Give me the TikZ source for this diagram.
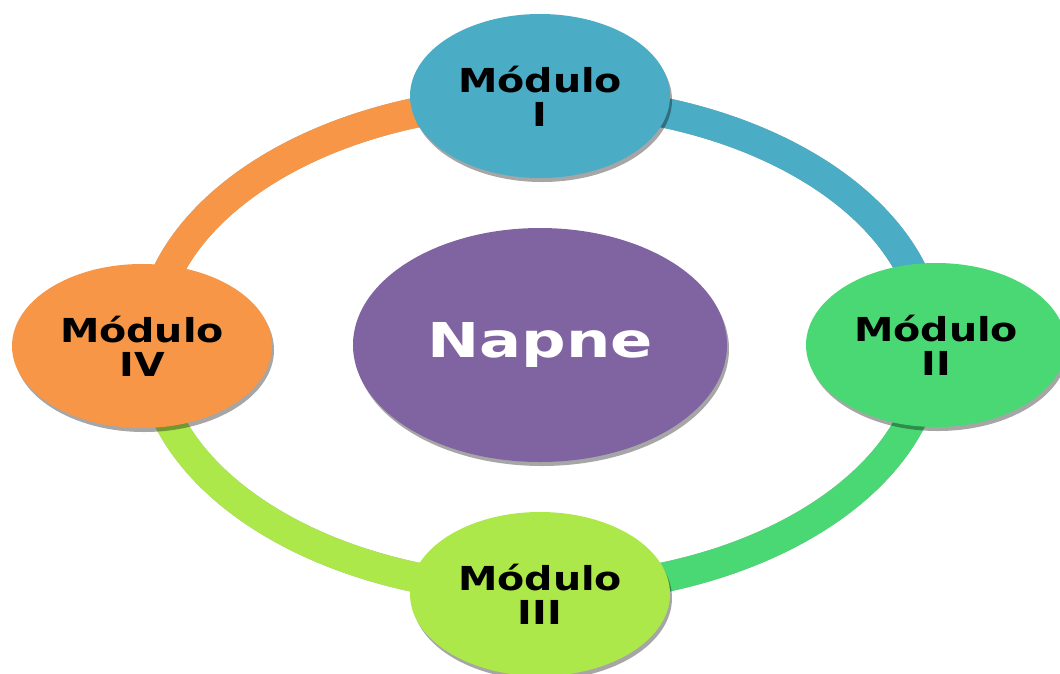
\documentclass[tikz,border=0pt]{standalone}
\usepackage{fontspec}
\usetikzlibrary{shapes.geometric}
\newfontfamily\modfont{DejaVu Sans}[FakeStretch=1.2]
\newfontfamily\napfont{DejaVu Sans}[FakeStretch=1.3]
\definecolor{cblue}{HTML}{4BACC6}
\definecolor{cgreen}{HTML}{4AD874}
\definecolor{clime}{HTML}{ADE84A}
\definecolor{corange}{HTML}{F79646}
\definecolor{cpurple}{HTML}{8064A2}
\definecolor{cshadow}{HTML}{A6A6A6}
\tikzset{
  modbox/.style={ellipse, minimum width=260, minimum height=164, inner sep=0pt,
    align=center, text=black, font=\modfont\bfseries\fontsize{33}{34}\selectfont},
  modshadow/.style={ellipse, minimum width=260, minimum height=164, inner sep=0pt,
    fill=black, fill opacity=0.35},
  band/.style={line width=30pt, line cap=butt},
}
\begin{document}
\begin{tikzpicture}[x=1pt,y=1pt]
\useasboundingbox (0,0) rectangle (1060,-673);
% ring coordinates
\coordinate (rT) at (540,-100);
\coordinate (rL) at (150,-345);
\coordinate (rB) at (540,-590);
\coordinate (rR) at (930,-345);
% band shadows
\begin{scope}[shift={(1,-4)}]
  \draw[band, cshadow] (rT) arc[start angle=90, end angle=180, x radius=390, y radius=245];
  \draw[band, cshadow] (rR) arc[start angle=0, end angle=90, x radius=390, y radius=245];
  \draw[band, cshadow] (rB) arc[start angle=270, end angle=360, x radius=390, y radius=245];
  \draw[band, cshadow] (rL) arc[start angle=180, end angle=270, x radius=390, y radius=245];
\end{scope}
% bands
\draw[band, corange] (rT) arc[start angle=90, end angle=180, x radius=390, y radius=245];
\draw[band, cblue] (rR) arc[start angle=0, end angle=90, x radius=390, y radius=245];
\draw[band, cgreen] (rB) arc[start angle=270, end angle=360, x radius=390, y radius=245];
\draw[band, clime] (rL) arc[start angle=180, end angle=270, x radius=390, y radius=245];
% module shadows
\node[modshadow] (s1) at (542,-100) {};
\node[modshadow] (s2) at (938,-349) {};
\node[modshadow] (s3) at (542,-598) {};
\node[modshadow] (s4) at (144,-350) {};
\node[ellipse, minimum width=374, minimum height=234, inner sep=0pt, fill=black, fill opacity=0.35] (s0) at (542,-349) {};
% modules
\node[modbox, fill=cblue] (m1) at (540,-96) {Módulo\\I};
\node[modbox, fill=cgreen] (m2) at (936,-345) {Módulo\\II};
\node[modbox, fill=clime] (m3) at (540,-594) {Módulo\\III};
\node[modbox, fill=corange] (m4) at (142,-346) {Módulo\\IV};
\node[ellipse, minimum width=374, minimum height=234, inner sep=0pt, fill=cpurple,
  text=white, font=\napfont\bfseries\fontsize{48}{50}\selectfont] (c) at (540,-345) {Napne};
\end{tikzpicture}
\end{document}
